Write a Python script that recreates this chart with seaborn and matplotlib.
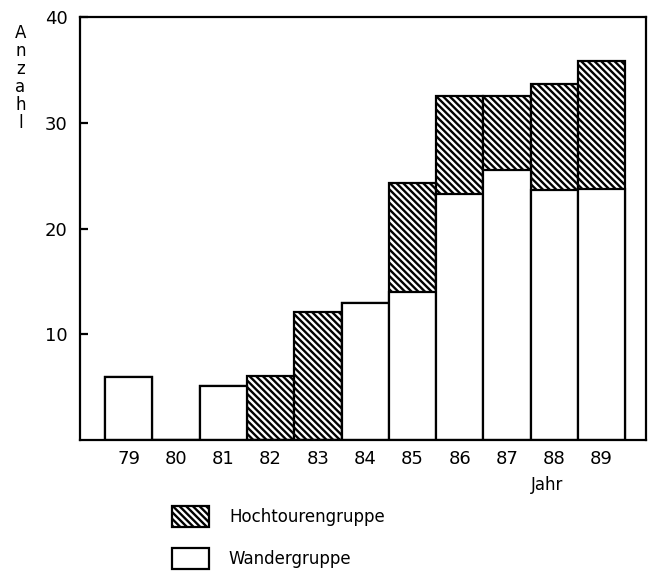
import numpy as np
import pandas as pd
import matplotlib
matplotlib.use('Agg')
import matplotlib.pyplot as plt
import matplotlib.patches as mpatches
import seaborn as sns

# Werte
jahre = ['79', '80', '81', '82', '83', '84', '85', '86', '87', '88', '89']
wandergruppe = [6.0, 0, 5.1, 0, 0, 13.0, 14.0, 23.3, 25.6, 23.7, 23.8]
hochtouren = [0, 0, 0, 6.1, 12.1, 0, 10.3, 9.3, 7.0, 10.0, 12.1]

df = pd.DataFrame({'Jahr': jahre, 'Wander': wandergruppe, 'Hoch': hochtouren})
df['Gesamt'] = df['Wander'] + df['Hoch']

sns.set_style('white')
plt.rcParams['font.family'] = ['DejaVu Sans']
plt.rcParams['hatch.linewidth'] = 1.7
plt.rcParams['text.color'] = 'black'
plt.rcParams['axes.labelcolor'] = 'black'
plt.rcParams['xtick.color'] = 'black'
plt.rcParams['ytick.color'] = 'black'

fig = plt.figure(figsize=(6.53, 5.75), dpi=100)
ax = fig.add_axes([0.1225, 0.2348, 0.867, 0.735])

# Gesamt (schraffiert), darüber die Wandergruppe (weiß)
sns.barplot(data=df, x='Jahr', y='Gesamt', color='white', saturation=1,
            edgecolor='black', linewidth=1.6, width=1, hatch='\\\\\\\\\\', ax=ax)
sns.barplot(data=df, x='Jahr', y='Wander', color='white', saturation=1,
            edgecolor='black', linewidth=1.6, width=1, ax=ax)

ax.set_xlim(-1.03, 10.94)
ax.set_ylim(0, 40)
ax.set_yticks([10, 20, 30, 40])
ax.tick_params(axis='y', left=True, direction='in', length=6, width=1.6,
               pad=9, labelsize=13)
ax.tick_params(axis='x', bottom=False, length=0, pad=7, labelsize=13)
for s in ax.spines.values():
    s.set_linewidth(1.6)
    s.set_color('black')

ax.set_xlabel('Jahr', fontsize=12)
ax.xaxis.set_label_coords(0.825, -0.085)
ax.set_ylabel('A\nn\nz\na\nh\nl', rotation=0, fontsize=12, linespacing=1.0, va='top')
ax.yaxis.set_label_coords(-0.105, 0.985)

h1 = mpatches.Patch(facecolor='white', edgecolor='black', hatch='\\\\\\\\\\', linewidth=1.6)
h2 = mpatches.Patch(facecolor='white', edgecolor='black', linewidth=1.6)
fig.legend([h1, h2], ['Hochtourengruppe', 'Wandergruppe'],
           loc='upper left', bbox_to_anchor=(0.251, 0.134), frameon=False,
           fontsize=12, handlelength=2.2, handleheight=1.5,
           handletextpad=1.2, labelspacing=1.3, borderpad=0)

fig.savefig('out.png', dpi=100)
